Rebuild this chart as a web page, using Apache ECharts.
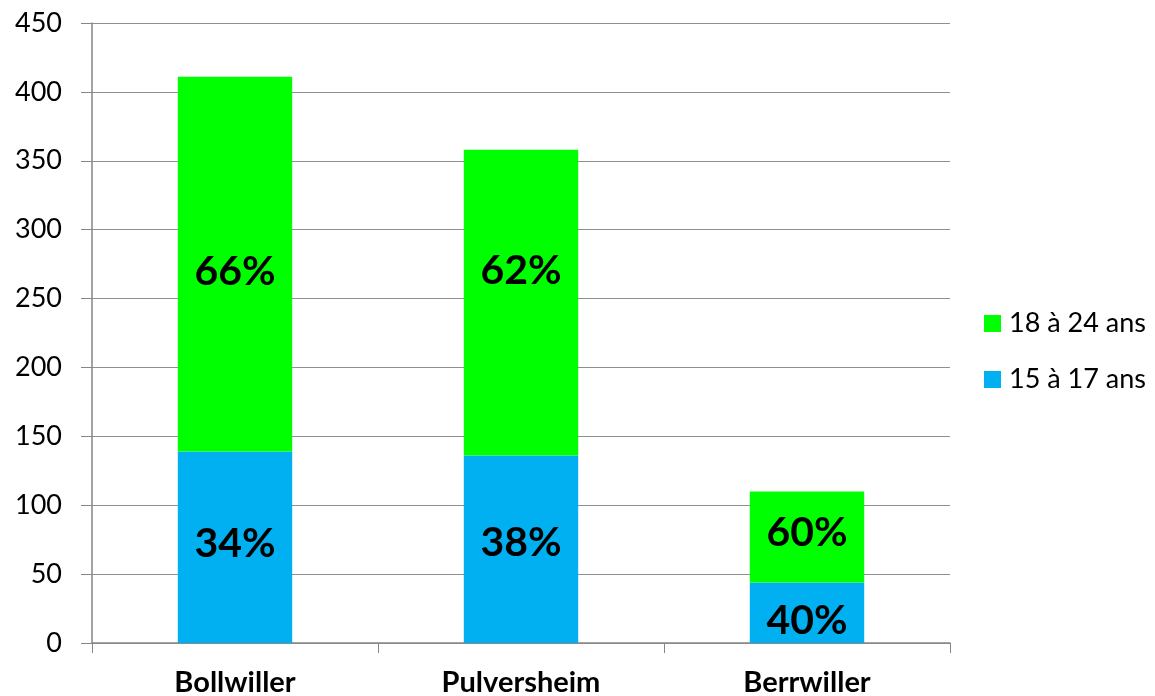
<!DOCTYPE html>
<html>
<head>
<meta charset="utf-8">
<script src="https://cdn.jsdelivr.net/npm/echarts@6/dist/echarts.min.js"></script>
<style>html,body{margin:0;padding:0;background:#fff}#c{width:1155px;height:696px}</style>
</head>
<body>
<div id="c"></div>
<script>
const categories = ['Bollwiller', 'Pulversheim', 'Berrwiller'];
const age15to17 = [139, 136, 44];
const age18to24 = [272, 222, 66];
const seriesNames = ['15 à 17 ans', '18 à 24 ans'];
const yTicks = { min: 0, max: 450, interval: 50 };

const totals = categories.map((_, i) => age15to17[i] + age18to24[i]);
const FONT = 'Lato, "Open Sans", sans-serif';

const chart = echarts.init(document.getElementById('c'));
const pctLabel = (p) => Math.round(p.value / totals[p.dataIndex] * 100) + '%';
const labelStyle = { show: true, position: 'inside', formatter: pctLabel, fontFamily: FONT, fontWeight: 'bold', fontSize: 41, color: '#000' };
const blueOffsets = [[0, -3], [0, -7], [0, 8]];
const greenOffsets = [[0, 8], [0, -32], [0, -4]];

chart.setOption({
  animation: false,
  grid: { left: 92, right: 205, top: 23, bottom: 53, outerBoundsMode: 'none', containLabel: false },
  legend: {
    orient: 'vertical', left: 979, top: 305, itemGap: 29,
    itemWidth: 17, itemHeight: 17, icon: 'rect',
    data: [seriesNames[1], seriesNames[0]],
    textStyle: { fontFamily: FONT, fontSize: 27, color: '#000', padding: [0, 0, 0, 3] }
  },
  xAxis: {
    type: 'category', data: categories,
    axisLine: { lineStyle: { color: '#868686', width: 1.5 } },
    axisTick: { show: true, alignWithLabel: false, length: 10, lineStyle: { color: '#868686' } },
    axisLabel: { margin: 25, fontFamily: FONT, fontWeight: 'bold', fontSize: 29, color: '#000' }
  },
  yAxis: {
    type: 'value', min: yTicks.min, max: yTicks.max, interval: yTicks.interval,
    axisLine: { show: true, lineStyle: { color: '#868686', width: 1.5 } },
    axisTick: { show: true, length: 11, lineStyle: { color: '#868686' } },
    splitLine: { lineStyle: { color: '#909090', width: 1.2 } },
    axisLabel: { margin: 30, fontFamily: FONT, fontSize: 27, color: '#000' }
  },
  series: [
    {
      name: seriesNames[0], type: 'bar', stack: 'a', barWidth: '40%',
      itemStyle: { color: '#00B0F0' },
      label: labelStyle,
      data: age15to17.map((v, i) => ({ value: v, label: { offset: blueOffsets[i] } }))
    },
    {
      name: seriesNames[1], type: 'bar', stack: 'a', barWidth: '40%',
      itemStyle: { color: '#00FF00' },
      label: labelStyle,
      data: age18to24.map((v, i) => ({ value: v, label: { offset: greenOffsets[i] } }))
    }
  ]
});
</script>
</body>
</html>
